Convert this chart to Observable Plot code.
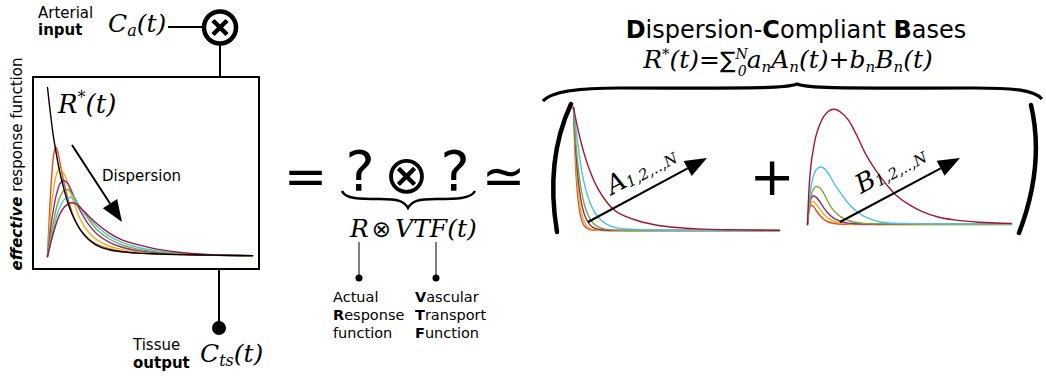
<!DOCTYPE html>
<html><head><meta charset="utf-8">
<script src="https://cdn.jsdelivr.net/npm/d3@7"></script>
<script src="https://cdn.jsdelivr.net/npm/@observablehq/plot@0.6"></script>
<style>
body{margin:0;background:#fff;}
#wrap{position:relative;width:1046px;height:376px;overflow:hidden;font-family:"DejaVu Sans";}
#wrap svg{position:absolute;}
</style></head><body><div id="wrap"></div>
<script>
// ---------- data ----------
const seriesNames = ["n1","n2","n3","n4","n5","n6"];
const seriesColors = ["#D95319","#EDB120","#7E2F8E","#77AC30","#4DBEEE","#A2142F"];

// left panel: effective response functions (time in s, arbitrary amplitude)
const tEff = [0,0.5,1,1.5,2,2.5,3,4,5,6,7,8,10,12,15,18,22,27,33,40,50];
const idealR = [1.00,0.89,0.79,0.70,0.63,0.56,0.50,0.40,0.315,0.25,0.20,0.158,0.10,0.066,0.04,0.028,0.02,0.015,0.011,0.008,0.005];
const eff1 = [0,0.26,0.47,0.60,0.65,0.62,0.56,0.44,0.34,0.26,0.20,0.16,0.105,0.072,0.046,0.032,0.021,0.014,0.010,0.007,0.004];
const eff2 = [0,0.17,0.31,0.40,0.47,0.505,0.523,0.49,0.43,0.35,0.28,0.22,0.145,0.10,0.062,0.042,0.027,0.018,0.012,0.008,0.004];
const eff3 = [0,0.11,0.21,0.285,0.35,0.395,0.43,0.45,0.43,0.38,0.32,0.27,0.19,0.135,0.085,0.056,0.035,0.022,0.013,0.008,0.004];
const eff4 = [0,0.08,0.15,0.21,0.27,0.315,0.35,0.39,0.395,0.37,0.33,0.29,0.22,0.16,0.105,0.07,0.044,0.026,0.015,0.009,0.004];
const eff5 = [0,0.06,0.12,0.17,0.22,0.26,0.29,0.335,0.35,0.345,0.32,0.29,0.23,0.18,0.122,0.085,0.055,0.033,0.018,0.009,0.005];
const eff6 = [0,0.05,0.10,0.145,0.185,0.22,0.25,0.29,0.31,0.318,0.31,0.29,0.24,0.195,0.14,0.10,0.07,0.042,0.022,0.011,0.005];

// A bases
const tA = [0,0.25,0.5,0.75,1,1.5,2,2.5,3,4,5,6,8,10,13,16,20,25,30,40,50];
const baseA1 = [1,0.73,0.535,0.39,0.287,0.153,0.082,0.044,0.024,0.007,0.002,0.001,0,0,0,0,0,0,0,0,0];
const baseA2 = [1,0.78,0.607,0.472,0.368,0.223,0.135,0.082,0.05,0.018,0.007,0.002,0,0,0,0,0,0,0,0,0];
const baseA3 = [1,0.825,0.681,0.562,0.463,0.315,0.215,0.146,0.10,0.046,0.021,0.01,0.002,0,0,0,0,0,0,0,0];
const baseA4 = [1,0.863,0.745,0.643,0.555,0.414,0.308,0.23,0.171,0.095,0.053,0.029,0.009,0.003,0,0,0,0,0,0,0];
const baseA5 = [1,0.92,0.85,0.78,0.72,0.59,0.48,0.40,0.33,0.228,0.157,0.108,0.052,0.025,0.012,0.007,0.004,0.002,0.001,0,0];
const baseA6 = [1,0.956,0.913,0.873,0.834,0.761,0.695,0.635,0.58,0.483,0.403,0.336,0.234,0.162,0.11,0.075,0.045,0.024,0.013,0.005,0.001];

// B bases
const tB = [0,0.5,1,1.5,2,3,4,5,6,7,8,10,12,14,16,18,20,22,25,28,32,36,42,50];
const baseB1 = [0,0.14,0.167,0.155,0.13,0.08,0.045,0.024,0.013,0.007,0.004,0.001,0,0,0,0,0,0,0,0,0,0,0,0];
const baseB2 = [0,0.15,0.195,0.2,0.18,0.135,0.09,0.058,0.036,0.022,0.014,0.006,0.003,0.001,0.001,0,0,0,0,0,0,0,0,0];
const baseB3 = [0,0.17,0.235,0.25,0.24,0.2,0.145,0.1,0.066,0.044,0.028,0.012,0.006,0.004,0.003,0.002,0.001,0.001,0.001,0.001,0.001,0.001,0.001,0.001];
const baseB4 = [0,0.18,0.27,0.31,0.33,0.32,0.27,0.2,0.14,0.1,0.07,0.035,0.017,0.01,0.006,0.005,0.004,0.003,0.003,0.002,0.002,0.002,0.002,0.002];
const baseB5 = [0,0.23,0.36,0.425,0.47,0.5,0.49,0.45,0.39,0.33,0.28,0.185,0.115,0.068,0.04,0.022,0.013,0.01,0.008,0.006,0.005,0.004,0.003,0.003];
const baseB6 = [0,0.38,0.56,0.67,0.76,0.87,0.94,0.98,1.0,1.0,0.98,0.91,0.78,0.63,0.51,0.41,0.32,0.245,0.17,0.115,0.065,0.04,0.02,0.01];

// ---------- helpers ----------
function tidy(t, arrays){ return arrays.flatMap((vals, k) => vals.map((v, i) => ({t: t[i], v, s: seriesNames[k]}))); }
const wrap = document.getElementById("wrap");
function place(svg, left, top){ svg.style.left = left + "px"; svg.style.top = top + "px"; svg.style.background = "transparent"; svg.style.overflow = "visible"; wrap.appendChild(svg); }

function curvePanel({left, top, width, height, margins, t, arrays, curve, extra = []}){
  const svg = Plot.plot({
    width, height,
    marginLeft: margins[0], marginRight: margins[1], marginTop: margins[2], marginBottom: margins[3],
    x: {domain: [0, 50], axis: null},
    y: {domain: [0, 1], axis: null},
    color: {domain: seriesNames, range: seriesColors},
    marks: [
      Plot.line(tidy(t, arrays), {x: "t", y: "v", z: "s", stroke: "s", strokeWidth: 1.4, curve}),
      ...extra
    ]
  });
  place(svg, left, top);
}

// left panel (effective response functions)
curvePanel({left: 32, top: 76, width: 228, height: 194, margins: [15, 8, 11, 14],
  t: tEff, arrays: [eff1, eff2, eff3, eff4, eff5, eff6], curve: "catmull-rom",
  extra: [Plot.line(tEff.map((t, i) => ({t, v: idealR[i]})), {x: "t", y: "v", stroke: "black", strokeWidth: 1.4, curve: "monotone-x"})]});
// A bases
curvePanel({left: 563, top: 97, width: 226, height: 143, margins: [10, 10, 10, 10],
  t: tA, arrays: [baseA1, baseA2, baseA3, baseA4, baseA5, baseA6], curve: "monotone-x"});
// B bases
curvePanel({left: 797, top: 99, width: 224, height: 136, margins: [10, 10, 10, 11],
  t: tB, arrays: [baseB1, baseB2, baseB3, baseB4, baseB5, baseB6], curve: "catmull-rom"});

// ---------- schematic overlay ----------
function arrow(x1, y1, x2, y2, len, hw, sw){
  const a = Math.atan2(y2 - y1, x2 - x1), c = Math.cos(a), s = Math.sin(a);
  const bx = x2 - len * c, by = y2 - len * s;
  return `<line x1="${x1}" y1="${y1}" x2="${bx}" y2="${by}" stroke="#000" stroke-width="${sw}"/>` +
    `<polygon points="${x2},${y2} ${bx - hw * s},${by + hw * c} ${bx + hw * s},${by - hw * c}" fill="#000"/>`;
}
const M = 'font-family="DejaVu Serif" font-style="italic"';
const ov = `
<svg xmlns="http://www.w3.org/2000/svg" width="1046" height="376" style="left:0;top:0" font-family="DejaVu Sans">
  <!-- left box -->
  <rect x="33" y="77" width="226" height="192" fill="none" stroke="#000" stroke-width="2"/>
  <text transform="translate(22,164) rotate(-90)" text-anchor="middle" font-size="15"><tspan font-weight="bold" font-style="italic">effective</tspan> response function</text>
  <text x="58" y="113" ${M} font-size="26">R<tspan dy="-10" font-size="16">*</tspan><tspan dy="10">(t)</tspan></text>
  <text x="102" y="181" font-size="15">Dispersion</text>
  ${arrow(72, 145, 122, 222, 22, 8.5, 2)}
  <!-- input node -->
  <text x="38" y="18" font-size="15">Arterial</text>
  <text x="38" y="35" font-size="15" font-weight="bold">input</text>
  <text x="108" y="32" ${M} font-size="25">C<tspan dy="4" font-size="16">a</tspan><tspan dy="-4">(t)</tspan></text>
  <line x1="168" y1="27" x2="203" y2="27" stroke="#000" stroke-width="2"/>
  <line x1="220" y1="44" x2="220" y2="77" stroke="#000" stroke-width="2"/>
  <circle cx="220" cy="27.5" r="16" fill="#fff" stroke="#000" stroke-width="4.5"/>
  <path d="M213,20.5 L227,34.5 M227,20.5 L213,34.5" stroke="#000" stroke-width="4.5"/>
  <!-- output node -->
  <line x1="219" y1="269" x2="219" y2="328" stroke="#000" stroke-width="2"/>
  <circle cx="219" cy="328" r="7" fill="#000"/>
  <text x="133" y="350" font-size="15">Tissue</text>
  <text x="133" y="368" font-size="15" font-weight="bold">output</text>
  <text x="200" y="362" ${M} font-size="25">C<tspan dy="4" font-size="16">ts</tspan><tspan dy="-4">(t)</tspan></text>
  <!-- equation -->
  <text x="305.5" y="194" text-anchor="middle" font-size="52">=</text>
  <text x="360" y="190" text-anchor="middle" font-size="55">?</text>
  <text x="406.5" y="193" text-anchor="middle" font-size="53">⊗</text>
  <text x="455" y="190" text-anchor="middle" font-size="55">?</text>
  <text x="503.5" y="194" text-anchor="middle" font-size="52">≃</text>
  <path d="M342,191 C345,199 360,199 380,199 C398,199 404,201 408,208 C412,201 418,199 436,199 C456,199 471,199 475,191" fill="none" stroke="#000" stroke-width="2.5"/>
  <text x="350" y="237" ${M} font-size="25">R<tspan dx="3" font-style="normal" font-family="DejaVu Sans" font-size="23">⊗</tspan><tspan dx="4">VTF(t)</tspan></text>
  <line x1="359" y1="242" x2="359" y2="278" stroke="#000" stroke-width="1"/>
  <circle cx="359" cy="278" r="3.5" fill="#000"/>
  <line x1="436" y1="242" x2="436" y2="278" stroke="#000" stroke-width="1"/>
  <circle cx="436" cy="278" r="3.5" fill="#000"/>
  <text x="333" y="302" font-size="14.5">Actual</text>
  <text x="333" y="320" font-size="14.5"><tspan font-weight="bold">R</tspan>esponse</text>
  <text x="333" y="338" font-size="14.5">function</text>
  <text x="415" y="302" font-size="14.5"><tspan font-weight="bold">V</tspan>ascular</text>
  <text x="415" y="320" font-size="14.5"><tspan font-weight="bold">T</tspan>ransport</text>
  <text x="415" y="338" font-size="14.5"><tspan font-weight="bold">F</tspan>unction</text>
  <!-- right side -->
  <text x="796" y="38" text-anchor="middle" font-size="24"><tspan font-weight="bold">D</tspan>ispersion-<tspan font-weight="bold">C</tspan>ompliant <tspan font-weight="bold">B</tspan>ases</text>
  <text x="788" y="68" text-anchor="middle" ${M} font-size="25">R<tspan dy="-9" font-size="15">*</tspan><tspan dy="9">(t)=</tspan><tspan font-style="normal" font-family="DejaVu Sans" font-size="23">∑</tspan><tspan dy="-9" font-size="14">N</tspan><tspan dx="-10" dy="17" font-size="14">0</tspan><tspan dy="-8">a</tspan><tspan dy="4" font-size="15">n</tspan><tspan dy="-4">A</tspan><tspan dy="4" font-size="15">n</tspan><tspan dy="-4">(t)+b</tspan><tspan dy="4" font-size="15">n</tspan><tspan dy="-4">B</tspan><tspan dy="4" font-size="15">n</tspan><tspan dy="-4">(t)</tspan></text>
  <path d="M543,101 C552,91 580,88 620,88 C740,88 785,89 797,84 C809,89 855,88 975,88 C1015,88 1034,90 1042,99" fill="none" stroke="#000" stroke-width="3.2"/>
  <path d="M571,104 Q545,160 557,232" fill="none" stroke="#000" stroke-width="4.5" stroke-linecap="round"/>
  <path d="M1031,105 Q1045,165 1019,233" fill="none" stroke="#000" stroke-width="4.5" stroke-linecap="round"/>
  <text x="772" y="195" text-anchor="middle" font-size="54">+</text>
  ${arrow(588, 222, 707, 158, 22, 8.5, 2)}
  ${arrow(840, 222, 960, 158, 22, 8.5, 2)}
  <text transform="translate(612,195) rotate(-28.3)" ${M} font-size="26">A<tspan dy="2" font-size="15">1,2,..,N</tspan></text>
  <text transform="translate(861,194) rotate(-27.8)" ${M} font-size="26">B<tspan dy="2" font-size="15">1,2,..,N</tspan></text>
</svg>`;
wrap.insertAdjacentHTML("beforeend", ov);
</script>
</body></html>
